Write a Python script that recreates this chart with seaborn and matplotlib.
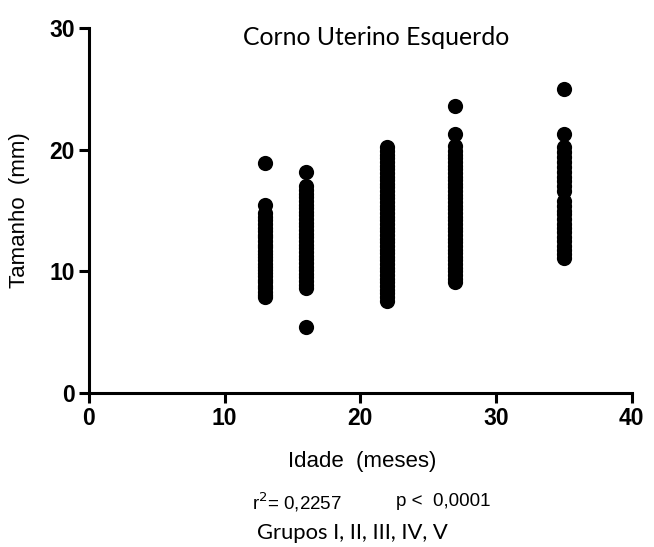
import matplotlib
matplotlib.use("Agg")
import matplotlib.pyplot as plt
import seaborn as sns
import pandas as pd

# ---- data ----
ages = [13, 16, 22, 27, 35]
size_13 = [7.9, 8.1, 8.3, 8.6, 8.8, 9.1, 9.3, 9.6, 9.9, 10.1, 10.4, 10.6, 10.9, 11.2,
           11.4, 11.7, 12.0, 12.2, 12.5, 12.8, 13.0, 13.3, 13.6, 13.9, 14.2, 14.5,
           14.8, 15.5, 18.9]
size_16 = [5.4, 8.6, 8.9, 9.2, 9.5, 9.8, 10.1, 10.4, 10.7, 11.0, 11.3, 11.6, 11.9,
           12.2, 12.5, 12.8, 13.1, 13.4, 13.7, 14.0, 14.3, 14.6, 14.9, 15.2, 15.5,
           15.8, 16.1, 16.4, 16.7, 17.0, 18.2]
size_22 = [7.6, 7.9, 8.2, 8.5, 8.8, 9.1, 9.4, 9.7, 10.0, 10.3, 10.6, 10.9, 11.2, 11.5,
           11.8, 12.1, 12.4, 12.7, 13.0, 13.3, 13.6, 13.9, 14.2, 14.5, 14.8, 15.1,
           15.4, 15.7, 16.0, 16.3, 16.6, 16.9, 17.2, 17.5, 17.8, 18.1, 18.4, 18.7,
           19.0, 19.3, 19.6, 19.9, 20.2]
size_27 = [9.1, 9.4, 9.7, 10.0, 10.3, 10.6, 10.9, 11.2, 11.5, 11.8, 12.1, 12.4, 12.7,
           13.0, 13.3, 13.6, 13.9, 14.2, 14.5, 14.8, 15.1, 15.4, 15.7, 16.0, 16.3,
           16.6, 16.9, 17.2, 17.5, 17.8, 18.1, 18.4, 18.7, 19.0, 19.3, 19.6, 19.9,
           20.3, 21.3, 23.6]
size_35 = [11.1, 11.4, 11.8, 12.1, 12.5, 12.8, 13.2, 13.6, 13.9, 14.3, 14.7, 15.0,
           15.4, 15.8, 16.6, 17.0, 17.4, 17.8, 18.2, 18.6, 19.0, 19.4, 19.8, 20.2,
           21.3, 25.0]
x_ticks = [0, 10, 20, 30, 40]
y_ticks = [0, 10, 20, 30]
title = "Corno Uterino Esquerdo"
x_label = "Idade  (meses)"
y_label = "Tamanho  (mm)"
stat_r2 = "r$^2$= 0,2257"
stat_p = "p <  0,0001"
groups_note = "Grupos I, II, III, IV, V"

groups = [size_13, size_16, size_22, size_27, size_35]
rows = []
for a, vals in zip(ages, groups):
    for v in vals:
        rows.append((a, v))
df = pd.DataFrame(rows, columns=["idade", "tamanho"])

sns.set_style("ticks")
plt.rcParams['font.family'] = ['Liberation Sans', 'DejaVu Sans']
plt.rcParams['text.color'] = 'black'
plt.rcParams['axes.labelcolor'] = 'black'
plt.rcParams['xtick.color'] = 'black'
plt.rcParams['ytick.color'] = 'black'

fig = plt.figure(figsize=(6.54, 5.47), dpi=100)
ax = fig.add_axes([0.136, 0.2815, 0.830, 0.667])

sns.scatterplot(data=df, x="idade", y="tamanho", ax=ax, color="black",
                s=120, linewidth=0, clip_on=False, zorder=3)

ax.set_xlim(0, 40)
ax.set_ylim(0, 30)
ax.set_xticks(x_ticks)
ax.set_yticks(y_ticks)
ax.set_xlabel("")
ax.set_ylabel(y_label, fontsize=16, labelpad=14)
for lab in ax.get_xticklabels() + ax.get_yticklabels():
    lab.set_fontweight("bold")
    lab.set_fontsize(16.5)
ax.tick_params(axis="both", direction="out", length=7, width=2.2, color="black",
               labelcolor="black", pad=3)
for side in ["top", "right"]:
    ax.spines[side].set_visible(False)
for side in ["left", "bottom"]:
    ax.spines[side].set_linewidth(2.2)
    ax.spines[side].set_color("black")

ax.text(0.529, 0.975, title, transform=ax.transAxes, ha="center", va="center",
        fontsize=17.8, family=["Lato", "DejaVu Sans"])

fig.text(362 / 654, 1 - 462 / 547, x_label, ha="center", va="center", fontsize=16)
fig.text(252 / 654, 1 - 502 / 547, stat_r2, ha="left", va="center", fontsize=13.5)
fig.text(490 / 654, 1 - 502 / 547, stat_p, ha="right", va="center", fontsize=13.5)
fig.text(352 / 654, 1 - 533 / 547, groups_note, ha="center", va="center",
         fontsize=15.8, family=["Lato", "DejaVu Sans"])

fig.savefig("out.png", dpi=100)
